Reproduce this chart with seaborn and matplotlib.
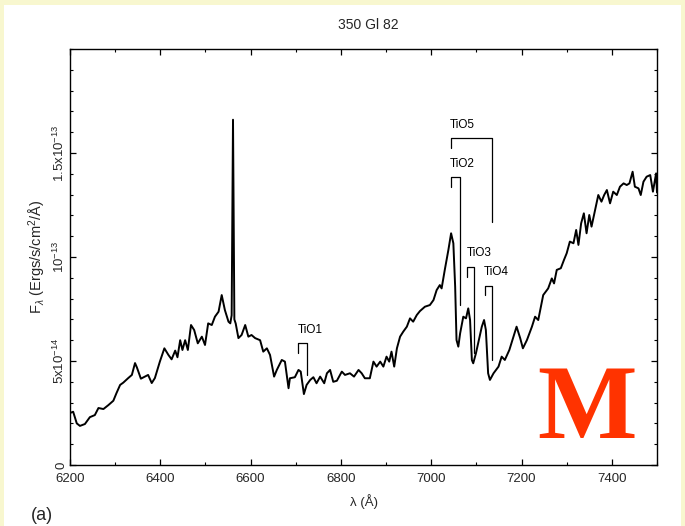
import numpy as np
import pandas as pd
import matplotlib
matplotlib.use("Agg")
import matplotlib.pyplot as plt
from matplotlib.patches import Rectangle
from matplotlib.ticker import MultipleLocator, FixedLocator
import seaborn as sns

# ---------------- data ----------------
wavelength = [
    6200, 6207, 6215, 6222, 6233, 6244, 6255, 6263, 6274, 6285, 6296, 6303, 6311, 6318,
    6329, 6337, 6344, 6348, 6357, 6366, 6373, 6381, 6388, 6399, 6409, 6418, 6425, 6433,
    6438, 6444, 6449, 6455, 6461, 6468, 6475, 6483, 6492, 6499, 6506, 6514, 6521, 6529,
    6536, 6543, 6551, 6555, 6558, 6561, 6564, 6567, 6573, 6580, 6588, 6595, 6602, 6610,
    6621, 6628, 6636, 6643, 6652, 6658, 6669, 6676, 6684, 6687, 6698, 6706, 6711, 6718,
    6724, 6732, 6739, 6746, 6754, 6763, 6769, 6776, 6783, 6791, 6802, 6809, 6820, 6829,
    6839, 6846, 6853, 6864, 6872, 6879, 6887, 6894, 6901, 6907, 6912, 6918, 6924, 6931,
    6938, 6946, 6953, 6960, 6968, 6975, 6986, 6997, 7005, 7012, 7019, 7023, 7030, 7038,
    7044, 7049, 7053, 7056, 7060, 7064, 7071, 7077, 7082, 7086, 7090, 7093, 7099, 7107,
    7112, 7117, 7121, 7126, 7130, 7138, 7149, 7156, 7163, 7173, 7182, 7189, 7197, 7203,
    7212, 7223, 7230, 7237, 7248, 7259, 7267, 7272, 7278, 7287, 7294, 7300, 7307, 7315,
    7321, 7326, 7332, 7338, 7344, 7350, 7355, 7363, 7370, 7377, 7383, 7389, 7396, 7403,
    7411, 7418, 7426, 7433, 7439, 7446, 7451, 7459, 7464, 7470, 7477, 7485, 7491, 7498,
    7500,
]
# flux in units of 1e-14 erg/s/cm2/A
flux_e14 = [
    2.50, 2.56, 2.00, 1.88, 1.97, 2.30, 2.40, 2.74, 2.69, 2.88, 3.09, 3.46, 3.85, 3.96,
    4.18, 4.33, 4.90, 4.70, 4.15, 4.25, 4.33, 3.94, 4.18, 4.97, 5.61, 5.29, 5.08, 5.50,
    5.18, 6.00, 5.53, 6.00, 5.53, 6.73, 6.49, 5.85, 6.17, 5.77, 6.81, 6.73, 7.13, 7.37,
    8.17, 7.45, 6.89, 6.81, 7.20, 16.6, 7.00, 6.80, 6.10, 6.25, 6.73, 6.17, 6.25, 6.10,
    6.00, 5.45, 5.61, 5.29, 4.25, 4.57, 5.05, 4.97, 3.69, 4.17, 4.22, 4.57, 4.49, 3.41,
    3.85, 4.09, 4.22, 3.93, 4.25, 3.93, 4.41, 4.57, 4.00, 4.05, 4.49, 4.33, 4.41, 4.25,
    4.57, 4.41, 4.17, 4.17, 4.97, 4.73, 4.97, 4.73, 5.21, 4.97, 5.45, 4.73, 5.61, 6.17,
    6.41, 6.65, 7.05, 6.89, 7.21, 7.40, 7.61, 7.69, 7.93, 8.41, 8.65, 8.49, 9.38, 10.34,
    11.14, 10.66, 8.57, 6.01, 5.69, 6.33, 7.13, 7.05, 7.53, 6.97, 5.05, 4.89, 5.37, 6.17,
    6.65, 6.97, 6.49, 4.41, 4.09, 4.41, 4.73, 5.21, 5.05, 5.53, 6.17, 6.65, 6.10, 5.61,
    6.01, 6.65, 7.13, 6.97, 8.17, 8.49, 8.97, 8.73, 9.38, 9.46, 9.86, 10.18, 10.74, 10.66,
    11.30, 10.58, 11.62, 12.10, 11.14, 12.02, 11.46, 12.26, 12.98, 12.66, 12.98, 13.22, 12.58, 13.14,
    12.98, 13.38, 13.54, 13.46, 13.54, 14.10, 13.38, 13.30, 12.98, 13.62, 13.86, 13.94, 13.14, 14.02,
    13.10,
]
FLUX_UNIT = 1e-14

# TiO band markers: label, left x, right x, top y, left-leg bottom, right-leg bottom (1e-14 units)
band_names = ["TiO1", "TiO2", "TiO3", "TiO4", "TiO5"]
band_left = [6706, 7044, 7080, 7119, 7043]
band_right = [6724, 7064, 7095, 7134, 7134]
band_top = [5.85, 13.83, 9.54, 8.62, 15.71]
band_left_bot = [5.37, 13.38, 9.05, 8.17, 15.23]
band_right_bot = [4.33, 7.69, 5.37, 5.05, 11.70]

x_ticks = [6200, 6400, 6600, 6800, 7000, 7200, 7400]
x_tick_labels = ["6200", "6400", "6600", "6800", "7000", "7200", "7400"]
y_ticks = [0, 5e-14, 1e-13, 1.5e-13]
y_tick_labels = ["0", r"5x10$^{-14}$", r"10$^{-13}$", r"1.5x10$^{-13}$"]

title_text = "350 Gl 82"
x_label = "λ (Å)"
y_label = r"F$_\lambda$ (Ergs/s/cm$^2$/Å)"

# ---------------- style ----------------
sns.set_style("ticks")
plt.rcParams["font.family"] = ["Liberation Sans", "DejaVu Sans"]
plt.rcParams["mathtext.fontset"] = "custom"
plt.rcParams["mathtext.rm"] = "Liberation Sans"
plt.rcParams["mathtext.it"] = "Liberation Sans:italic"
plt.rcParams["mathtext.bf"] = "Liberation Sans:bold"

W, H = 685, 526
fig = plt.figure(figsize=(W / 100, H / 100), dpi=100)
fig.patch.set_facecolor("#f8f7cf")
fig.patches.append(Rectangle((4 / W, 0), (681 - 4) / W, 1 - 5 / H,
                             transform=fig.transFigure, facecolor="white",
                             edgecolor="none", zorder=-10))

ax = fig.add_axes([70 / W, 1 - 465 / H, (657 - 70) / W, (465 - 49) / H])
ax.set_facecolor("white")

df = pd.DataFrame({"wavelength": wavelength,
                   "flux": np.array(flux_e14) * FLUX_UNIT})
sns.lineplot(data=df, x="wavelength", y="flux", ax=ax, color="black",
             linewidth=1.4, estimator=None, sort=False)

# TiO brackets
for name, xl, xr, yt, ylb, yrb in zip(band_names, band_left, band_right, band_top,
                                      band_left_bot, band_right_bot):
    ax.plot([xl, xl, xr, xr],
            [ylb * FLUX_UNIT, yt * FLUX_UNIT, yt * FLUX_UNIT, yrb * FLUX_UNIT],
            color="black", lw=0.9)
    ax.text(xl - 2, (yt + 0.35) * FLUX_UNIT, name, ha="left", va="bottom",
            fontsize=8.5, color="black")

ax.set_xlim(6200, 7500)
ax.set_ylim(0, 2e-13)
ax.xaxis.set_major_locator(FixedLocator(x_ticks))
ax.set_xticklabels(x_tick_labels, fontsize=9.5)
ax.xaxis.set_minor_locator(MultipleLocator(100))
ax.yaxis.set_major_locator(FixedLocator(y_ticks))
ax.set_yticklabels(y_tick_labels, fontsize=9.5, rotation=90, va="center")
ax.yaxis.set_minor_locator(MultipleLocator(1e-14))

ax.tick_params(which="both", direction="in", top=True, right=True, color="black")
ax.tick_params(which="major", length=4.2, width=0.9)
ax.tick_params(axis="x", which="major", pad=6)
ax.tick_params(axis="y", which="major", pad=2)
ax.tick_params(which="minor", length=2.2, width=0.8)
for s in ax.spines.values():
    s.set_visible(True)
    s.set_color("black")
    s.set_linewidth(1.0)

ax.set_xlabel(x_label, fontsize=9.5, labelpad=6)
ax.set_ylabel(y_label, fontsize=10.5, labelpad=3)

fig.text(368 / W, 1 - 25 / H, title_text, ha="center", va="center", fontsize=10)
fig.text(42 / W, 1 - 515 / H, "(a)", ha="center", va="center", fontsize=13)
fig.text(587 / W, 1 - 438 / H, "M", ha="center", va="baseline",
         fontsize=76, fontweight="bold", color="#ff3300",
         family=["Liberation Serif", "DejaVu Serif"])

fig.savefig("out.png", dpi=100, facecolor=fig.get_facecolor())
